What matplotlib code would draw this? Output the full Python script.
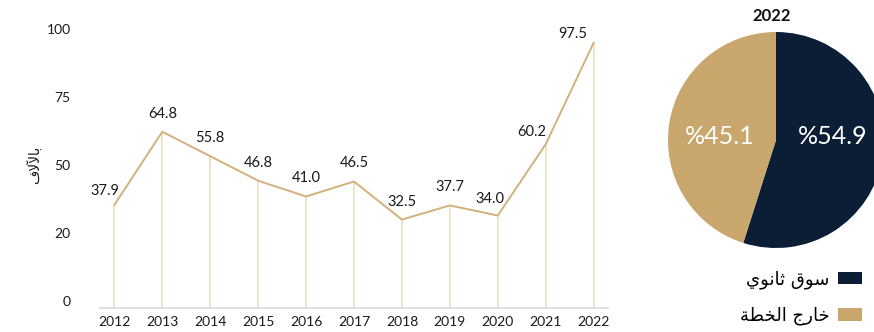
import matplotlib.pyplot as plt
from matplotlib.patches import Patch

plt.rcParams['font.family'] = ['Lato', 'DejaVu Sans']

# annual values (thousands)
years = [2012, 2013, 2014, 2015, 2016, 2017, 2018, 2019, 2020, 2021, 2022]
values = [37.9, 64.8, 55.8, 46.8, 41.0, 46.5, 32.5, 37.7, 34.0, 60.2, 97.5]

y_ticks = [0, 25, 50, 75, 100]
y_tick_labels = ['0', '20', '50', '75', '100']

# 2022 split
pie_labels = ['ﻱﻮﻧﺎﺛ ﻕﻮﺳ', 'ﺔﻄﺨﻟﺍ ﺝﺭﺎﺧ']
pie_values = [54.9, 45.1]
pie_title = '2022'
y_label = 'ﻑﻻﻵﺎﺑ'

gold = '#C9A66B'
line_gold = '#D2B17C'
drop_gold = '#EEE1CB'
navy = '#0C1E35'

fig = plt.figure(figsize=(8.74, 3.32), dpi=100)

# ---- line chart ----
ax = fig.add_axes([100 / 874, 24 / 332, 508 / 874, 285.6 / 332])
ax.plot(years, values, color=line_gold, lw=1.4, zorder=3)
ax.vlines(years, 0, values, color=drop_gold, lw=1.3, zorder=2)
ax.set_xlim(2011.7, 2022.3)
ax.set_ylim(0, 105)

# label offsets in points (dx, dy)
offsets = {2012: (-7, 10), 2020: (-6, 12), 2021: (-10, 9), 2022: (-15, 6)}
for x, v in zip(years, values):
    dx, dy = offsets.get(x, (0, 13))
    ax.annotate(f'{v:.1f}', (x, v), xytext=(dx, dy), textcoords='offset points',
                ha='center', va='center', fontsize=10.5, color='#1a1a1a')

ax.set_xticks(years)
ax.set_xticklabels([str(y) for y in years], fontsize=10, color='#1a1a1a')
ax.set_yticks(y_ticks)
ax.set_yticklabels(y_tick_labels, fontsize=10, color='#1a1a1a', va='bottom')
ax.tick_params(axis='x', length=0, pad=6)
ax.tick_params(axis='y', length=0, pad=21)
for s in ['top', 'right', 'left']:
    ax.spines[s].set_visible(False)
ax.spines['bottom'].set_color('#D9D9D9')
ax.spines['bottom'].set_linewidth(1.2)

fig.text(35 / 874, 1 - 165 / 332, y_label, rotation=90, ha='center', va='center',
         fontsize=10, family='DejaVu Sans', color='#1a1a1a')

# ---- pie ----
pax = fig.add_axes([668 / 874, 84 / 332, 216 / 874, 216 / 332])
wedges, texts, autotexts = pax.pie(
    pie_values, colors=[navy, gold], startangle=90, counterclock=False,
    autopct=lambda p: f'%{p:.1f}', pctdistance=0.53, radius=1,
    textprops=dict(color='white', fontsize=18))
# keep both percentages on one horizontal line
for t in autotexts:
    t.set_position((t.get_position()[0], 0.03))
pax.set_xlim(-1, 1)
pax.set_ylim(-1, 1)
pax.set_aspect('equal')

fig.text(772 / 874, 1 - 16 / 332, pie_title, ha='center', va='center',
         fontsize=12, fontweight='bold', color='#111111')

handles = [Patch(facecolor=navy), Patch(facecolor=gold)]
fig.legend(handles, pie_labels, loc='upper right', bbox_to_anchor=(869 / 874, 1 - 263 / 332),
           frameon=False, markerfirst=False, handlelength=1.3, handleheight=0.7,
           labelspacing=1.0, handletextpad=0.5, borderaxespad=0,
           prop={'family': 'DejaVu Sans', 'size': 13})

fig.savefig('out.png', dpi=100)
